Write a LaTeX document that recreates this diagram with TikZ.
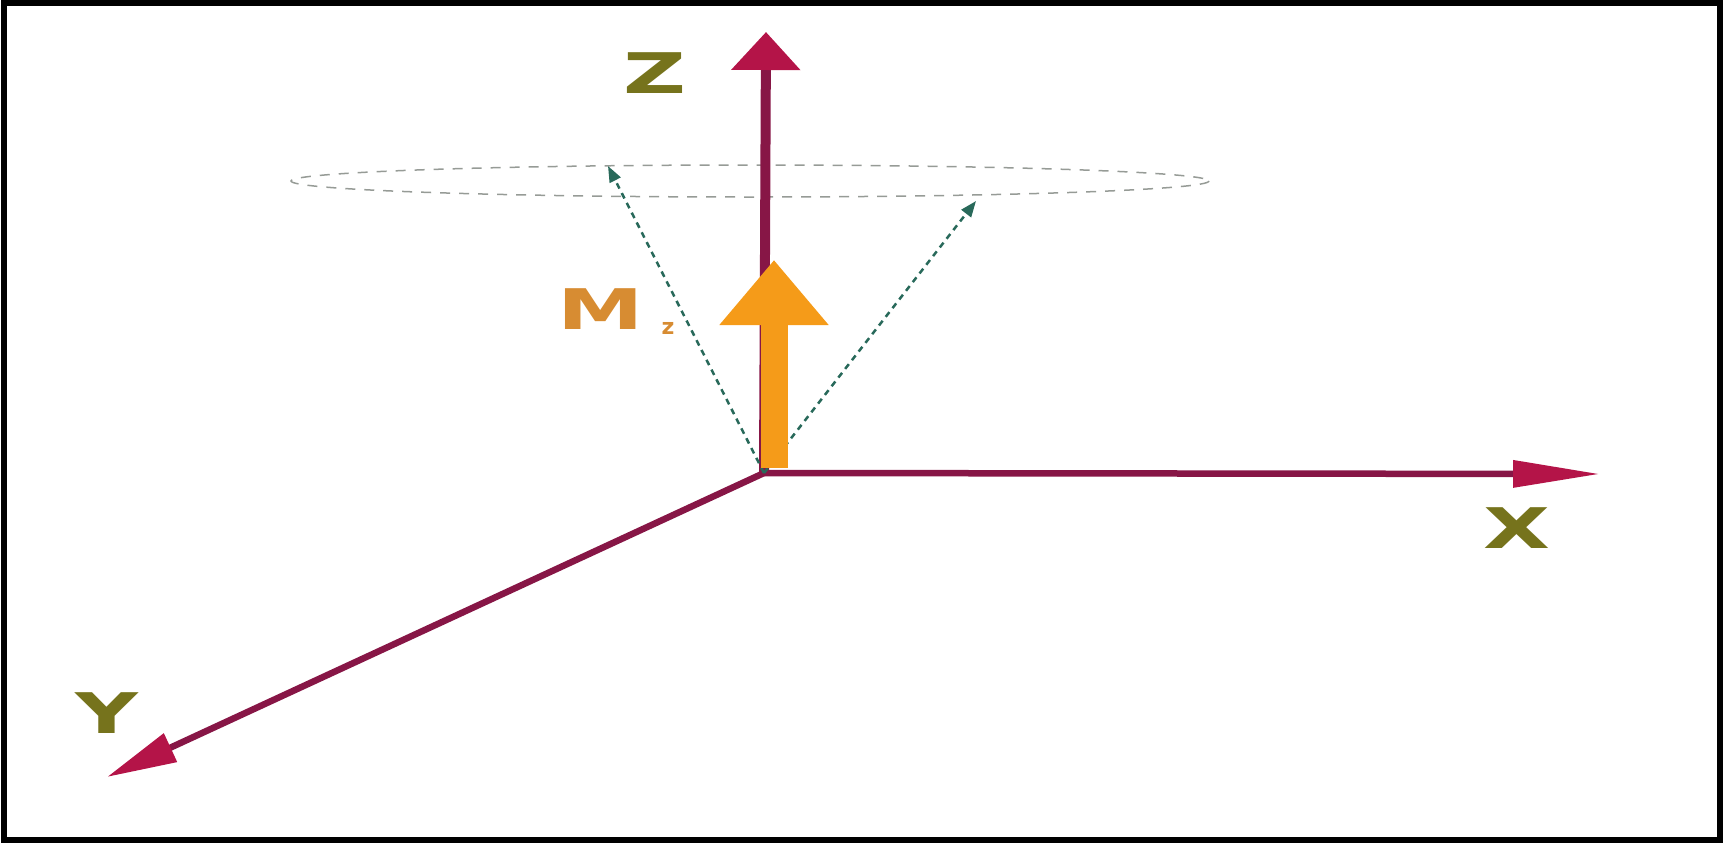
\documentclass[tikz,border=0pt]{standalone}
\usepackage{fontspec}
\setmainfont{DejaVu Sans}
\usetikzlibrary{arrows.meta}
\definecolor{axis}{RGB}{135,22,70}
\definecolor{axhead}{RGB}{180,20,72}
\definecolor{lbl}{RGB}{118,115,28}
\definecolor{mag}{RGB}{245,155,25}
\definecolor{maglbl}{RGB}{215,140,50}
\definecolor{prec}{RGB}{40,105,90}
\definecolor{ell}{RGB}{150,155,150}
\begin{document}
\begin{tikzpicture}[x=1pt,y=-1pt,
  axisline/.style={draw=axis, line width=6.5pt},
  axlabel/.style={text=lbl, font=\fontsize{56}{56}\selectfont\bfseries, xscale=1.55, inner sep=0pt},
  precline/.style={draw=prec, line width=2.5pt, dash pattern=on 6pt off 5pt, -{Triangle[length=16pt,width=12pt]}},
]
\useasboundingbox (0,0) rectangle (1724,843);
\draw[black, line width=6pt] (4,3) rectangle (1720,840);

\coordinate (O) at (764,473);
\coordinate (Xt) at (1600,474);
\coordinate (Yt) at (107,777);
\coordinate (Zt) at (766,32);
\coordinate (Ms) at (774,468);
\coordinate (Mt) at (774,260);
\coordinate (P1) at (608,166);
\coordinate (P2) at (976,201);

% precession cone ellipse
\draw[ell, line width=1.5pt, dash pattern=on 10pt off 9pt] (750,181) ellipse [x radius=459, y radius=16];

% axes
\draw[axisline, -{Triangle[length=87pt,width=26pt,color=axhead]}] (O) -- (Xt);
\draw[axisline, -{Triangle[length=70pt,width=30pt,color=axhead]}] (O) -- (Yt);
\draw[axisline, line width=10pt, -{Triangle[length=38pt,width=67pt,color=axhead]}] (O) -- (Zt);

% precession vectors
\draw[precline] (O) -- (P1);
\draw[precline] (O) -- (P2);

% magnetization
\draw[draw=mag, line width=27pt, -{Triangle[length=65pt,width=105pt]}] (Ms) -- (Mt);

% labels
\node[axlabel] (zl) at (655,73) {Z};
\node[axlabel] (xl) at (1517,528) {X};
\node[axlabel] (yl) at (107,713) {Y};
\node[axlabel, text=maglbl] (ml) at (601,309) {M};
\node[text=maglbl, font=\fontsize{22}{22}\selectfont\bfseries, inner sep=0pt] (mz) at (668,328) {z};
\end{tikzpicture}
\end{document}
